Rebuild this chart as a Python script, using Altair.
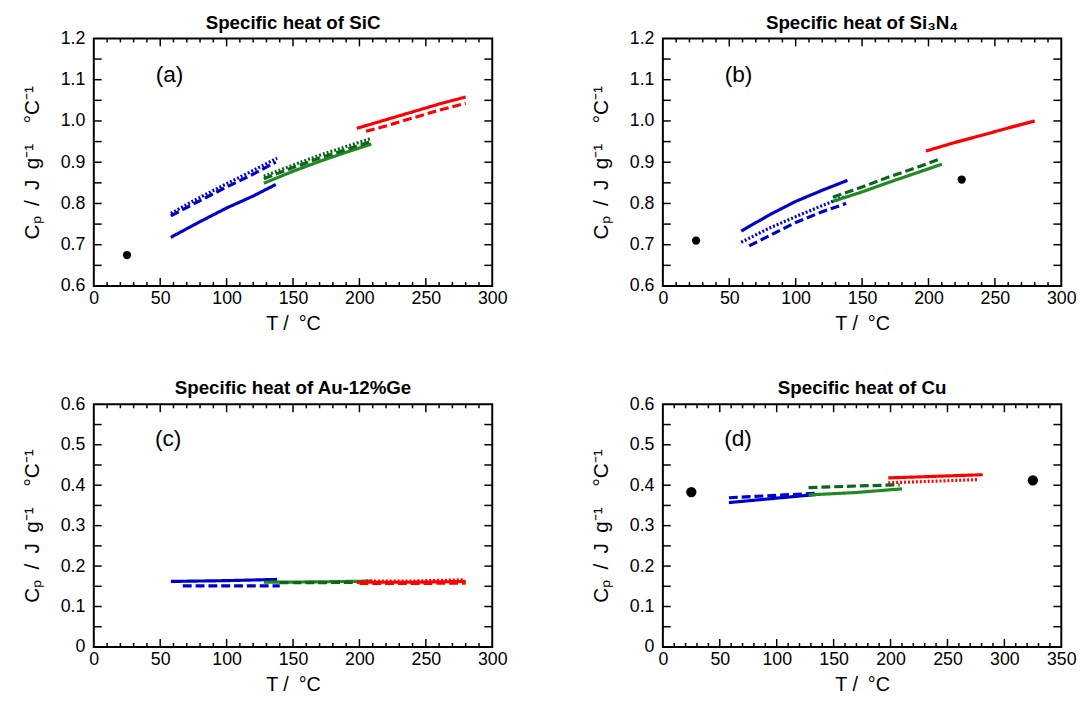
import altair as alt
import pandas as pd

FONT = "Liberation Sans"

# ---------------- data ----------------
# (a) SiC
a_blue_solid_T = [58, 80, 100, 120, 137]
a_blue_solid_cp = [0.718, 0.756, 0.789, 0.818, 0.846]
a_blue_dashed_T = [58, 80, 100, 120, 137]
a_blue_dashed_cp = [0.770, 0.807, 0.840, 0.871, 0.900]
a_blue_dotted_T = [58, 80, 100, 120, 138]
a_blue_dotted_cp = [0.776, 0.815, 0.848, 0.880, 0.910]
a_green_solid_T = [128, 150, 170, 190, 209]
a_green_solid_cp = [0.849, 0.878, 0.902, 0.924, 0.944]
a_green_dashed_T = [128, 150, 170, 190, 209]
a_green_dashed_cp = [0.860, 0.887, 0.910, 0.931, 0.950]
a_green_dotted_T = [128, 150, 170, 190, 209]
a_green_dotted_cp = [0.866, 0.893, 0.917, 0.938, 0.958]
a_red_solid_T = [198, 220, 240, 260, 280]
a_red_solid_cp = [0.982, 1.003, 1.022, 1.041, 1.058]
a_red_dashed_T = [205, 220, 240, 260, 280]
a_red_dashed_cp = [0.975, 0.988, 1.007, 1.026, 1.043]
a_pts_T = [25]
a_pts_cp = [0.675]

# (b) Si3N4
b_blue_solid_T = [59, 80, 100, 120, 139]
b_blue_solid_cp = [0.733, 0.772, 0.805, 0.832, 0.856]
b_blue_dotted_T = [59, 80, 100, 120, 138]
b_blue_dotted_cp = [0.706, 0.740, 0.768, 0.795, 0.818]
b_blue_dashed_T = [65, 82, 100, 120, 138]
b_blue_dashed_cp = [0.697, 0.725, 0.754, 0.780, 0.800]
b_green_solid_T = [128, 150, 170, 190, 210]
b_green_solid_cp = [0.805, 0.828, 0.851, 0.873, 0.895]
b_green_dashed_T = [128, 150, 170, 190, 208]
b_green_dashed_cp = [0.815, 0.840, 0.864, 0.886, 0.907]
b_red_solid_T = [198, 220, 240, 260, 280]
b_red_solid_cp = [0.927, 0.948, 0.965, 0.983, 1.000]
b_pts_T = [25, 225]
b_pts_cp = [0.710, 0.858]

# (c) Au-12%Ge
c_blue_solid_T = [58, 100, 138]
c_blue_solid_cp = [0.162, 0.164, 0.167]
c_blue_dashed_T = [67, 100, 140]
c_blue_dashed_cp = [0.151, 0.151, 0.151]
c_green_solid_T = [128, 170, 210]
c_green_solid_cp = [0.160, 0.161, 0.163]
c_green_dashed_T = [140, 170, 200]
c_green_dashed_cp = [0.159, 0.159, 0.160]
c_red_solid_T = [198, 240, 280]
c_red_solid_cp = [0.160, 0.160, 0.162]
c_red_dashed_T = [200, 240, 280]
c_red_dashed_cp = [0.157, 0.157, 0.158]
c_red_dotted_T = [205, 240, 278]
c_red_dotted_cp = [0.163, 0.163, 0.166]

# (d) Cu
d_blue_solid_T = [58, 100, 135]
d_blue_solid_cp = [0.357, 0.368, 0.377]
d_blue_dashed_T = [58, 100, 135]
d_blue_dashed_cp = [0.369, 0.375, 0.380]
d_green_solid_T = [128, 170, 210]
d_green_solid_cp = [0.376, 0.382, 0.391]
d_green_dashed_T = [128, 170, 208]
d_green_dashed_cp = [0.394, 0.398, 0.401]
d_red_solid_T = [198, 240, 281]
d_red_solid_cp = [0.418, 0.422, 0.426]
d_red_dotted_T = [198, 240, 277]
d_red_dotted_cp = [0.406, 0.410, 0.414]
d_pts_T = [25, 325]
d_pts_cp = [0.383, 0.412]

# panel tags (placed in data coordinates)
tags = ["(a)", "(b)", "(c)", "(d)"]
tag_T = [57, 57, 56, 66]
tag_cp = [1.11, 1.11, 0.513, 0.513]

titles = ["Specific heat of SiC", "Specific heat of Si\u2083N\u2084",
          "Specific heat of Au-12%Ge", "Specific heat of Cu"]

# axis tick values
x_major_300 = [0, 50, 100, 150, 200, 250, 300]
x_major_350 = [0, 50, 100, 150, 200, 250, 300, 350]
x_minor_300 = [10, 20, 30, 40, 60, 70, 80, 90, 110, 120, 130, 140, 160, 170, 180, 190,
               210, 220, 230, 240, 260, 270, 280, 290]
x_minor_350 = x_minor_300 + [310, 320, 330, 340]
x_inner_major_300 = [50, 100, 150, 200, 250]
x_inner_major_350 = [50, 100, 150, 200, 250, 300]
y_labels_top = [0.6, 0.7, 0.8, 0.9, 1.0, 1.1, 1.2]
y_ticks_top = [0.65, 0.7, 0.75, 0.8, 0.85, 0.9, 0.95, 1.0, 1.05, 1.1, 1.15]
y_labels_bot = [0, 0.1, 0.2, 0.3, 0.4, 0.5, 0.6]
y_ticks_bot = [0.05, 0.1, 0.15, 0.2, 0.25, 0.3, 0.35, 0.4, 0.45, 0.5, 0.55]

series_keys = ["blue solid", "blue dashed", "blue dotted",
               "green solid", "green dashed", "green dotted",
               "red solid", "red dashed", "red dotted"]
series_colors = ["#0000cc", "#0000cc", "#0000cc",
                 "#1f8a1f", "#0e641e", "#0e641e",
                 "#ff0000", "#ff0000", "#ff0000"]
series_dash = [[1, 0], [9, 4], [2, 2],
               [1, 0], [9, 4], [2, 2],
               [1, 0], [9, 4], [2, 2]]

W = 404
H_TOP = 251
H_BOT = 246
EN = "\u2002"
YTITLE = "C\u209a" + EN + "/" + EN + "J" + EN + "g\u207b\u00b9" + EN + EN + "\u00b0C\u207b\u00b9"


def lines_df(entries):
    rows = []
    for key, ts, cps in entries:
        for t, c in zip(ts, cps):
            rows.append({"T": t, "Cp": c, "series": key})
    return pd.DataFrame(rows)


def panel(idx, lines, pts_T, pts_cp, pt_size, xmax, xmaj, xinner, xmin, ydom, ylab, yt, h):
    xs = alt.Scale(domain=[0, xmax], nice=False, zero=False)
    ys = alt.Scale(domain=ydom, nice=False, zero=False)
    xaxis = alt.Axis(values=xmaj, format="d", title="T /" + EN + "\u00b0C", grid=False, ticks=False,
                     tickSize=0, domain=False, labelPadding=4, labelFontSize=18,
                     titleFontSize=20, titleFontWeight="normal", titlePadding=6,
                     labelFont=FONT, titleFont=FONT, labelColor="black", titleColor="black",
                     labelFlush=False)
    yaxis = alt.Axis(values=ylab, labelExpr="datum.value == 0 ? '0' : format(datum.value, '.1f')",
                     title=YTITLE, grid=False, ticks=False, tickSize=0, domain=False,
                     labelPadding=9, labelFontSize=18, titleFontSize=21,
                     titleFontWeight="normal", titlePadding=18, labelFont=FONT, titleFont=FONT,
                     labelColor="black", titleColor="black", labelFlush=False)

    def X(f):
        return alt.X(f, scale=xs, axis=xaxis)

    def Y(f):
        return alt.Y(f, scale=ys, axis=yaxis)

    line = alt.Chart(lines).mark_line(strokeWidth=3.2).encode(
        x=X("T:Q"), y=Y("Cp:Q"),
        color=alt.Color("series:N", scale=alt.Scale(domain=series_keys, range=series_colors), legend=None),
        strokeDash=alt.StrokeDash("series:N", scale=alt.Scale(domain=series_keys, range=series_dash), legend=None),
        detail="series:N",
    )
    layers = [line]
    if pts_T:
        pdf = pd.DataFrame({"T": pts_T, "Cp": pts_cp})
        layers.append(alt.Chart(pdf).mark_circle(color="black", opacity=1, size=pt_size).encode(
            x=X("T:Q"), y=Y("Cp:Q")))
    tdf = pd.DataFrame({"T": [tag_T[idx]], "Cp": [tag_cp[idx]], "tag": [tags[idx]]})
    layers.append(alt.Chart(tdf).mark_text(fontSize=23, font=FONT, color="black").encode(
        x=X("T:Q"), y=Y("Cp:Q"), text="tag:N"))
    # inward ticks on all four sides
    for vals, L in [(xinner, 8), (xmin, 4)]:
        d = pd.DataFrame({"T": vals})
        base = alt.Chart(d).mark_rule(color="black", strokeWidth=1.5)
        layers.append(base.encode(x=X("T:Q"), y=alt.value(h), y2=alt.value(h - L)))
        layers.append(base.encode(x=X("T:Q"), y=alt.value(0), y2=alt.value(L)))
    d = pd.DataFrame({"Cp": yt})
    base = alt.Chart(d).mark_rule(color="black", strokeWidth=1.5)
    layers.append(base.encode(y=Y("Cp:Q"), x=alt.value(0), x2=alt.value(8)))
    layers.append(base.encode(y=Y("Cp:Q"), x=alt.value(W), x2=alt.value(W - 8)))
    return alt.layer(*layers).properties(
        width=W, height=h,
        title=alt.TitleParams(titles[idx], fontSize=19, fontWeight="bold", font=FONT,
                              color="black", offset=-3, anchor="middle"),
    )


pa = panel(0, lines_df([
    ("blue solid", a_blue_solid_T, a_blue_solid_cp),
    ("blue dashed", a_blue_dashed_T, a_blue_dashed_cp),
    ("blue dotted", a_blue_dotted_T, a_blue_dotted_cp),
    ("green solid", a_green_solid_T, a_green_solid_cp),
    ("green dashed", a_green_dashed_T, a_green_dashed_cp),
    ("green dotted", a_green_dotted_T, a_green_dotted_cp),
    ("red solid", a_red_solid_T, a_red_solid_cp),
    ("red dashed", a_red_dashed_T, a_red_dashed_cp),
]), a_pts_T, a_pts_cp, 70, 300, x_major_300, x_inner_major_300, x_minor_300,
    [0.6, 1.2], y_labels_top, y_ticks_top, H_TOP)

pb = panel(1, lines_df([
    ("blue solid", b_blue_solid_T, b_blue_solid_cp),
    ("blue dotted", b_blue_dotted_T, b_blue_dotted_cp),
    ("blue dashed", b_blue_dashed_T, b_blue_dashed_cp),
    ("green solid", b_green_solid_T, b_green_solid_cp),
    ("green dashed", b_green_dashed_T, b_green_dashed_cp),
    ("red solid", b_red_solid_T, b_red_solid_cp),
]), b_pts_T, b_pts_cp, 70, 300, x_major_300, x_inner_major_300, x_minor_300,
    [0.6, 1.2], y_labels_top, y_ticks_top, H_TOP)

pc = panel(2, lines_df([
    ("blue solid", c_blue_solid_T, c_blue_solid_cp),
    ("blue dashed", c_blue_dashed_T, c_blue_dashed_cp),
    ("green solid", c_green_solid_T, c_green_solid_cp),
    ("green dashed", c_green_dashed_T, c_green_dashed_cp),
    ("red solid", c_red_solid_T, c_red_solid_cp),
    ("red dashed", c_red_dashed_T, c_red_dashed_cp),
    ("red dotted", c_red_dotted_T, c_red_dotted_cp),
]), [], [], 70, 300, x_major_300, x_inner_major_300, x_minor_300,
    [0, 0.6], y_labels_bot, y_ticks_bot, H_BOT)

pd_ = panel(3, lines_df([
    ("blue solid", d_blue_solid_T, d_blue_solid_cp),
    ("blue dashed", d_blue_dashed_T, d_blue_dashed_cp),
    ("green solid", d_green_solid_T, d_green_solid_cp),
    ("green dashed", d_green_dashed_T, d_green_dashed_cp),
    ("red solid", d_red_solid_T, d_red_solid_cp),
    ("red dotted", d_red_dotted_T, d_red_dotted_cp),
]), d_pts_T, d_pts_cp, 110, 350, x_major_350, x_inner_major_350, x_minor_350,
    [0, 0.6], y_labels_bot, y_ticks_bot, H_BOT)

chart = alt.vconcat(
    alt.hconcat(pa, pb, spacing=81),
    alt.hconcat(pc, pd_, spacing=81),
    spacing=45,
).configure_view(stroke="black", strokeWidth=2).properties(
    padding={"left": 12, "top": 0, "right": 5, "bottom": 5}
)

chart.save("out.html", embed_options={"renderer": "svg", "actions": False})
